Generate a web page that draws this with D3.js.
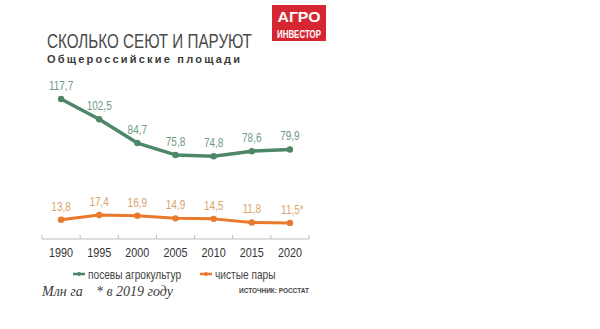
<!DOCTYPE html>
<html>
<head>
<meta charset="utf-8">
<script src="https://cdn.jsdelivr.net/npm/d3@7"></script>
<style>
  html, body { margin: 0; padding: 0; background: #fff; }
  svg { display: block; font-family: "Liberation Sans", Arial, sans-serif; }
  .serif { font-family: "Liberation Serif", "Times New Roman", serif; font-style: italic; }
</style>
</head>
<body>
<svg id="chart" width="600" height="329"></svg>
<script>
// Площади, млн га
const years = ["1990", "1995", "2000", "2005", "2010", "2015", "2020"];
const sown = [117.7, 102.5, 84.7, 75.8, 74.8, 78.6, 79.9];
const fallow = [13.8, 17.4, 16.9, 14.9, 14.5, 11.8, 11.5];
const fallowNotes = ["", "", "", "", "", "", "*"];
const seriesNames = ["посевы агрокультур", "чистые пары"];

const green = "#4d8767", greenLabel = "#6c9a84";
const orange = "#e97a2b", orangeLabel = "#d9a46c";

const svg = d3.select("#chart");
const fmt = v => d3.format(".1f")(v).replace(".", ",");

// Узкое начертание: сжимаем текст по горизонтали
function condense(sel, k) {
  sel.each(function () {
    const w = this.getComputedTextLength();
    d3.select(this).attr("textLength", w * k).attr("lengthAdjust", "spacingAndGlyphs");
  });
}

const x = d3.scalePoint().domain(years).range([42, 309]).padding(0.5);
// Две шкалы с одинаковым масштабом, разнесённые по высоте
const ySown = d3.scaleLinear().domain([70, 120]).range([162.7, 95.9]);
const yFallow = d3.scaleLinear().domain([10, 20]).range([224.9, 211.5]);

// Заголовок: узкий шрифт получаем горизонтальным сжатием группы
const title = svg.append("g").attr("transform", "translate(47,48) scale(0.8,1)");
title.append("text")
  .attr("x", 0).attr("y", 0)
  .attr("font-size", 20).attr("fill", "#4a4a4a")
  .text("СКОЛЬКО СЕЮТ И ПАРУЮТ")
  .each(function () {
    const w = this.getComputedTextLength();
    d3.select(this.parentNode).attr("transform", `translate(47,48) scale(${205 / w},1)`);
  });
svg.append("text")
  .attr("x", 47).attr("y", 63)
  .attr("font-size", 11).attr("font-weight", "bold").attr("fill", "#3a3a3a")
  .attr("textLength", 193).attr("lengthAdjust", "spacing")
  .text("Общероссийские площади");

// Логотип
const logo = svg.append("g");
logo.append("rect").attr("x", 272).attr("y", 5).attr("width", 54).attr("height", 36).attr("fill", "#d62631");
logo.append("text")
  .attr("x", 299).attr("y", 22).attr("text-anchor", "middle")
  .attr("font-size", 15).attr("font-weight", "bold").attr("fill", "#fff")
  .attr("textLength", 43).attr("lengthAdjust", "spacingAndGlyphs")
  .text("АГРО");
logo.append("text")
  .attr("x", 299).attr("y", 38).attr("text-anchor", "middle")
  .attr("font-size", 11).attr("font-weight", "bold").attr("fill", "#fff")
  .attr("textLength", 44).attr("lengthAdjust", "spacingAndGlyphs")
  .text("ИНВЕСТОР");

// Ось X
const axisY = 239;
const step = x.step();
const axisG = svg.append("g");
axisG.append("line")
  .attr("x1", x(years[0]) - step / 2).attr("x2", x(years[years.length - 1]) + step / 2)
  .attr("y1", axisY).attr("y2", axisY)
  .attr("stroke", "#bdbdbd").attr("stroke-width", 1);
axisG.selectAll("line.tick")
  .data(years.concat(["end"]))
  .join("line").attr("class", "tick")
  .attr("x1", (d, i) => x(years[0]) - step / 2 + i * step)
  .attr("x2", (d, i) => x(years[0]) - step / 2 + i * step)
  .attr("y1", axisY - 4).attr("y2", axisY)
  .attr("stroke", "#bdbdbd").attr("stroke-width", 1);
axisG.selectAll("text.year")
  .data(years)
  .join("text").attr("class", "year")
  .attr("x", d => x(d)).attr("y", 256.5)
  .attr("text-anchor", "middle").attr("font-size", 13.5).attr("fill", "#333")
  .text(d => d)
  .call(condense, 0.8);

// Линии и подписи
function drawSeries(values, y, color, labelColor, width, notes) {
  const line = d3.line().x((d, i) => x(years[i])).y(d => y(d));
  svg.append("path").datum(values)
    .attr("d", line).attr("fill", "none")
    .attr("stroke", color).attr("stroke-width", width)
    .attr("stroke-linejoin", "round").attr("stroke-linecap", "round");
  svg.append("g").selectAll("circle")
    .data(values).join("circle")
    .attr("cx", (d, i) => x(years[i])).attr("cy", d => y(d))
    .attr("r", 3.2).attr("fill", color);
  svg.append("g").selectAll("text")
    .data(values).join("text")
    .attr("x", (d, i) => x(years[i]) + (notes && notes[i] ? 2.5 : 0))
    .attr("y", d => y(d) - 9)
    .attr("text-anchor", "middle").attr("font-size", 12.5).attr("fill", labelColor)
    .text((d, i) => fmt(d) + (notes ? notes[i] : ""))
    .call(condense, 0.8);
}
drawSeries(sown, ySown, green, greenLabel, 3.5, null);
drawSeries(fallow, yFallow, orange, orangeLabel, 3, fallowNotes);

// Легенда
const legend = [
  { name: seriesNames[0], color: green, x: 73 },
  { name: seriesNames[1], color: orange, x: 200 }
];
const lg = svg.append("g").selectAll("g").data(legend).join("g")
  .attr("transform", d => `translate(${d.x},274)`);
lg.append("line").attr("x1", 0).attr("x2", 12).attr("y1", 0).attr("y2", 0)
  .attr("stroke", d => d.color).attr("stroke-width", 2.5);
lg.append("circle").attr("cx", 6).attr("cy", 0).attr("r", 2).attr("fill", d => d.color);
lg.append("text")
  .attr("x", 15).attr("y", 4.5).attr("font-size", 13).attr("fill", "#444")
  .text(d => d.name)
  .call(condense, 0.78);

// Подвал
svg.append("text").attr("class", "serif")
  .attr("x", 42).attr("y", 295.5)
  .attr("font-size", 14).attr("fill", "#3a3a3a")
  .text("Млн га");
svg.append("text").attr("class", "serif")
  .attr("x", 96).attr("y", 295.5)
  .attr("font-size", 14).attr("fill", "#3a3a3a")
  .text("* в 2019 году");
svg.append("text")
  .attr("x", 239).attr("y", 293)
  .attr("font-size", 6.5).attr("font-weight", "bold").attr("fill", "#444")
  .attr("textLength", 70).attr("lengthAdjust", "spacing")
  .text("ИСТОЧНИК: РОССТАТ");
</script>
</body>
</html>
